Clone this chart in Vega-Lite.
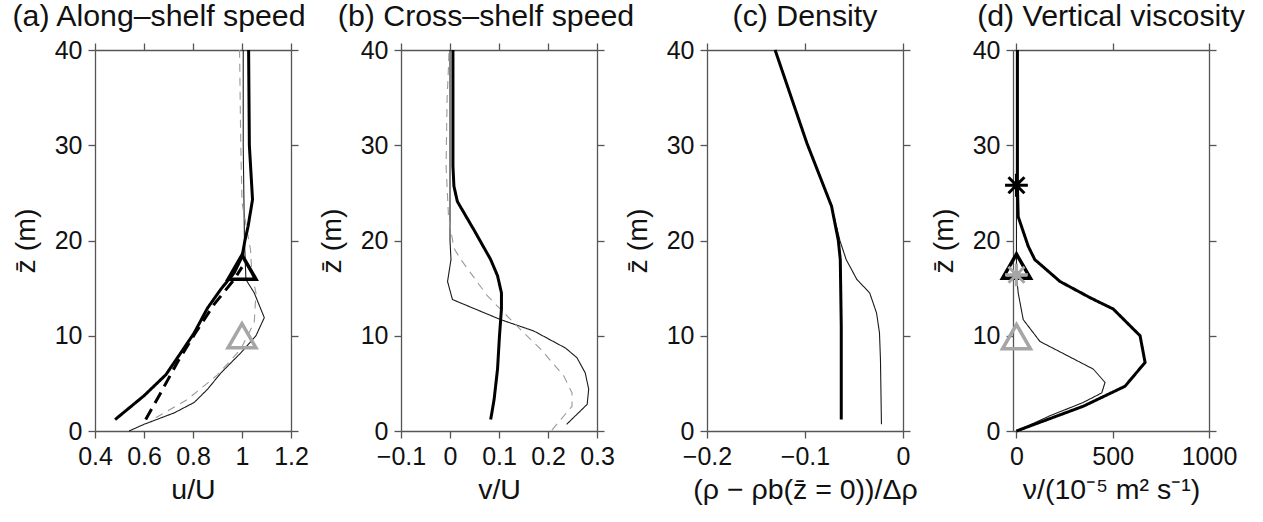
{
  "$schema": "https://vega.github.io/schema/vega-lite/v6.json",
  "padding": {"left": 11, "top": 1, "right": 5, "bottom": 5},
  "config": {
    "font": "Liberation Sans",
    "view": {"stroke": null},
    "axis": {
      "grid": false,
      "domainColor": "#555555",
      "domainWidth": 1.3,
      "tickColor": "#555555",
      "tickWidth": 1.3,
      "tickSize": 7,
      "labelFont": "Liberation Sans",
      "labelFontSize": 25,
      "labelColor": "#111111",
      "labelPadding": 6,
      "labelOverlap": false,
      "labelFlush": false,
      "titleFont": "Liberation Sans",
      "titleFontSize": 28.5,
      "titleFontWeight": "normal",
      "titleColor": "#111111"
    },
    "axisLeft": {"titlePadding": 14},
    "axisBottom": {"titlePadding": 6},
    "title": {"font": "Liberation Sans", "fontSize": 30.3, "fontWeight": "normal", "color": "#111111", "offset": 6, "anchor": "middle"}
  },
  "datasets": {
    "a": [
      {"s": "thick", "x": 0.482, "z": 1.2}, {"s": "thick", "x": 0.6, "z": 3.7}, {"s": "thick", "x": 0.689, "z": 5.9}, {"s": "thick", "x": 0.75, "z": 8.2}, {"s": "thick", "x": 0.805, "z": 10.3}, {"s": "thick", "x": 0.859, "z": 12.9}, {"s": "thick", "x": 0.914, "z": 14.9}, {"s": "thick", "x": 0.968, "z": 16.6}, {"s": "thick", "x": 1.0, "z": 18.3}, {"s": "thick", "x": 1.012, "z": 20.0}, {"s": "thick", "x": 1.025, "z": 21.5}, {"s": "thick", "x": 1.043, "z": 24.3}, {"s": "thick", "x": 1.03, "z": 30}, {"s": "thick", "x": 1.027, "z": 40},
      {"s": "thickdash", "x": 0.607, "z": 1.2}, {"s": "thickdash", "x": 0.668, "z": 4.0}, {"s": "thickdash", "x": 0.736, "z": 7.2}, {"s": "thickdash", "x": 0.805, "z": 10.1}, {"s": "thickdash", "x": 0.886, "z": 13.3}, {"s": "thickdash", "x": 0.968, "z": 15.9}, {"s": "thickdash", "x": 1.0, "z": 17.2},
      {"s": "thin", "x": 0.539, "z": 0}, {"s": "thin", "x": 0.6, "z": 0.7}, {"s": "thin", "x": 0.723, "z": 1.9}, {"s": "thin", "x": 0.805, "z": 3.0}, {"s": "thin", "x": 0.86, "z": 4.4}, {"s": "thin", "x": 0.914, "z": 6.1}, {"s": "thin", "x": 0.995, "z": 8.2}, {"s": "thin", "x": 1.057, "z": 10}, {"s": "thin", "x": 1.091, "z": 11.9}, {"s": "thin", "x": 1.05, "z": 14.5}, {"s": "thin", "x": 1.016, "z": 15.9}, {"s": "thin", "x": 1.014, "z": 17.3}, {"s": "thin", "x": 1.01, "z": 20}, {"s": "thin", "x": 1.005, "z": 30}, {"s": "thin", "x": 1.005, "z": 40},
      {"s": "graydash", "x": 0.648, "z": 1.4}, {"s": "graydash", "x": 0.777, "z": 3.3}, {"s": "graydash", "x": 0.9, "z": 5.9}, {"s": "graydash", "x": 0.995, "z": 8.6}, {"s": "graydash", "x": 1.05, "z": 11.4}, {"s": "graydash", "x": 1.057, "z": 14.5}, {"s": "graydash", "x": 1.04, "z": 16.5}, {"s": "graydash", "x": 1.035, "z": 19}, {"s": "graydash", "x": 1.0, "z": 24}, {"s": "graydash", "x": 0.995, "z": 30}, {"s": "graydash", "x": 0.99, "z": 40}
    ],
    "b": [
      {"s": "thick", "x": 0.083, "z": 1.2}, {"s": "thick", "x": 0.09, "z": 3.3}, {"s": "thick", "x": 0.097, "z": 6.5}, {"s": "thick", "x": 0.101, "z": 10}, {"s": "thick", "x": 0.105, "z": 12.8}, {"s": "thick", "x": 0.105, "z": 14.5}, {"s": "thick", "x": 0.097, "z": 16.3}, {"s": "thick", "x": 0.083, "z": 18}, {"s": "thick", "x": 0.049, "z": 21.1}, {"s": "thick", "x": 0.015, "z": 24.1}, {"s": "thick", "x": 0.008, "z": 25.7}, {"s": "thick", "x": 0.006, "z": 27.8}, {"s": "thick", "x": 0.006, "z": 40},
      {"s": "thin", "x": 0.238, "z": 0.7}, {"s": "thin", "x": 0.28, "z": 2.8}, {"s": "thin", "x": 0.283, "z": 4.4}, {"s": "thin", "x": 0.276, "z": 6.1}, {"s": "thin", "x": 0.259, "z": 7.7}, {"s": "thin", "x": 0.236, "z": 8.7}, {"s": "thin", "x": 0.171, "z": 10.5}, {"s": "thin", "x": 0.103, "z": 11.7}, {"s": "thin", "x": 0.005, "z": 13.8}, {"s": "thin", "x": -0.005, "z": 15.7}, {"s": "thin", "x": 0.002, "z": 18}, {"s": "thin", "x": 0.0, "z": 20}, {"s": "thin", "x": 0.0, "z": 40},
      {"s": "graydash", "x": 0.208, "z": 0.1}, {"s": "graydash", "x": 0.249, "z": 2.6}, {"s": "graydash", "x": 0.249, "z": 4.0}, {"s": "graydash", "x": 0.232, "z": 5.8}, {"s": "graydash", "x": 0.185, "z": 8.6}, {"s": "graydash", "x": 0.137, "z": 11}, {"s": "graydash", "x": 0.076, "z": 14.2}, {"s": "graydash", "x": 0.042, "z": 16.6}, {"s": "graydash", "x": 0.022, "z": 18}, {"s": "graydash", "x": 0.008, "z": 19.2}, {"s": "graydash", "x": -0.003, "z": 22.5}, {"s": "graydash", "x": -0.008, "z": 27.8}, {"s": "graydash", "x": -0.006, "z": 34.8}, {"s": "graydash", "x": -0.003, "z": 38.3}, {"s": "graydash", "x": -0.002, "z": 40}
    ],
    "c": [
      {"s": "thick", "x": -0.063, "z": 1.2}, {"s": "thick", "x": -0.063, "z": 11}, {"s": "thick", "x": -0.064, "z": 18}, {"s": "thick", "x": -0.066, "z": 20}, {"s": "thick", "x": -0.0729, "z": 23.6}, {"s": "thick", "x": -0.098, "z": 30.2}, {"s": "thick", "x": -0.1305, "z": 40},
      {"s": "thin", "x": -0.022, "z": 0.7}, {"s": "thin", "x": -0.023, "z": 7.5}, {"s": "thin", "x": -0.024, "z": 10.3}, {"s": "thin", "x": -0.027, "z": 12.4}, {"s": "thin", "x": -0.034, "z": 14.5}, {"s": "thin", "x": -0.047, "z": 15.9}, {"s": "thin", "x": -0.058, "z": 18}, {"s": "thin", "x": -0.0644, "z": 20}, {"s": "thin", "x": -0.0729, "z": 23.6}, {"s": "thin", "x": -0.098, "z": 30.2}, {"s": "thin", "x": -0.1305, "z": 40}
    ],
    "d": [
      {"s": "thick", "x": 0, "z": 0}, {"s": "thick", "x": 347, "z": 2.6}, {"s": "thick", "x": 564, "z": 4.7}, {"s": "thick", "x": 668, "z": 7.2}, {"s": "thick", "x": 642, "z": 10}, {"s": "thick", "x": 503, "z": 12.8}, {"s": "thick", "x": 382, "z": 14}, {"s": "thick", "x": 226, "z": 15.7}, {"s": "thick", "x": 95, "z": 18}, {"s": "thick", "x": 61, "z": 19.4}, {"s": "thick", "x": 9, "z": 22.5}, {"s": "thick", "x": 5, "z": 25.7}, {"s": "thick", "x": 5, "z": 40},
      {"s": "thin", "x": 0, "z": 0}, {"s": "thin", "x": 174, "z": 1.6}, {"s": "thin", "x": 347, "z": 3.0}, {"s": "thin", "x": 443, "z": 4.0}, {"s": "thin", "x": 460, "z": 5.1}, {"s": "thin", "x": 399, "z": 6.5}, {"s": "thin", "x": 122, "z": 9.4}, {"s": "thin", "x": 35, "z": 11.7}, {"s": "thin", "x": 9, "z": 14.5}, {"s": "thin", "x": 0, "z": 16.3}, {"s": "thin", "x": 0, "z": 40}
    ],
    "am": [
      {"m": "tri", "c": "k", "x": 1.0, "z": 17.2},
      {"m": "tri", "c": "g", "x": 1.0, "z": 10.0}
    ],
    "dm": [
      {"m": "ast", "c": "k", "x": 0, "z": 25.8},
      {"m": "tri", "c": "k", "x": 0, "z": 17.3},
      {"m": "ast", "c": "g", "x": 0, "z": 16.4},
      {"m": "tri", "c": "g", "x": 0, "z": 9.9}
    ]
  },
  "spacing": 110,
  "bounds": "flush",
  "resolve": {"scale": {"x": "independent", "y": "independent"}},
  "hconcat": [
    {
      "width": 196, "height": 381,
      "title": {"text": "(a) Along–shelf speed", "dx": -34},
      "data": {"name": "a"},
      "resolve": {"axis": {"x": "independent", "y": "independent"}},
      "layer": [
        {
          "transform": [{"filter": "datum.s == 'thin' || datum.s == 'graydash'"}],
          "mark": {"type": "line", "strokeWidth": 1.1},
          "encoding": {
            "x": {"field": "x", "type": "quantitative", "scale": {"domain": [0.4, 1.2], "nice": false, "zero": false}, "axis": {"values": [0.4, 0.6, 0.8, 1, 1.2], "format": "~g", "title": "u/U"}},
            "y": {"field": "z", "type": "quantitative", "scale": {"domain": [0, 40], "nice": false}, "axis": {"values": [0, 10, 20, 30, 40], "title": "z̄ (m)"}},
            "order": {"field": "z", "type": "quantitative"},
            "color": {"field": "s", "type": "nominal", "scale": {"domain": ["thick", "thickdash", "thin", "graydash"], "range": ["#000000", "#000000", "#1a1a1a", "#9a9a9a"]}, "legend": null},
            "strokeDash": {"field": "s", "type": "nominal", "scale": {"domain": ["thick", "thickdash", "thin", "graydash"], "range": [[1, 0], [12, 7], [1, 0], [8, 6]]}, "legend": null}
          }
        },
        {
          "transform": [{"filter": "datum.s == 'thick' || datum.s == 'thickdash'"}],
          "mark": {"type": "line", "strokeWidth": 3},
          "encoding": {
            "x": {"field": "x", "type": "quantitative", "axis": {"orient": "top", "values": [0.4, 0.6, 0.8, 1, 1.2], "labels": false, "title": null}},
            "y": {"field": "z", "type": "quantitative", "axis": {"orient": "right", "values": [0, 10, 20, 30, 40], "labels": false, "title": null}},
            "order": {"field": "z", "type": "quantitative"},
            "color": {"field": "s", "type": "nominal", "legend": null},
            "strokeDash": {"field": "s", "type": "nominal", "legend": null}
          }
        },
        {
          "data": {"name": "am"},
          "mark": {"type": "point", "shape": "triangle-up", "filled": false, "strokeWidth": 3.5, "size": 780, "opacity": 1},
          "encoding": {
            "x": {"field": "x", "type": "quantitative", "axis": null},
            "y": {"field": "z", "type": "quantitative", "axis": null},
            "stroke": {"field": "c", "type": "nominal", "scale": {"domain": ["k", "g"], "range": ["#000000", "#a6a6a6"]}, "legend": null}
          }
        }
      ]
    },
    {
      "width": 196, "height": 381,
      "title": {"text": "(b) Cross–shelf speed", "dx": -13},
      "data": {"name": "b"},
      "resolve": {"axis": {"x": "independent", "y": "independent"}},
      "layer": [
        {
          "transform": [{"filter": "datum.s == 'thin' || datum.s == 'graydash'"}],
          "mark": {"type": "line", "strokeWidth": 1.1},
          "encoding": {
            "x": {"field": "x", "type": "quantitative", "scale": {"domain": [-0.1, 0.3], "nice": false, "zero": false}, "axis": {"values": [-0.1, 0, 0.1, 0.2, 0.3], "format": "~g", "title": "v/U"}},
            "y": {"field": "z", "type": "quantitative", "scale": {"domain": [0, 40], "nice": false}, "axis": {"values": [0, 10, 20, 30, 40], "title": "z̄ (m)"}},
            "order": {"field": "z", "type": "quantitative"},
            "color": {"field": "s", "type": "nominal", "scale": {"domain": ["thick", "thickdash", "thin", "graydash"], "range": ["#000000", "#000000", "#1a1a1a", "#9a9a9a"]}, "legend": null},
            "strokeDash": {"field": "s", "type": "nominal", "scale": {"domain": ["thick", "thickdash", "thin", "graydash"], "range": [[1, 0], [12, 7], [1, 0], [8, 6]]}, "legend": null}
          }
        },
        {
          "transform": [{"filter": "datum.s == 'thick' || datum.s == 'thickdash'"}],
          "mark": {"type": "line", "strokeWidth": 3},
          "encoding": {
            "x": {"field": "x", "type": "quantitative", "axis": {"orient": "top", "values": [-0.1, 0, 0.1, 0.2, 0.3], "labels": false, "title": null}},
            "y": {"field": "z", "type": "quantitative", "axis": {"orient": "right", "values": [0, 10, 20, 30, 40], "labels": false, "title": null}},
            "order": {"field": "z", "type": "quantitative"},
            "color": {"field": "s", "type": "nominal", "legend": null},
            "strokeDash": {"field": "s", "type": "nominal", "legend": null}
          }
        }
      ]
    },
    {
      "width": 196, "height": 381,
      "title": {"text": "(c) Density"},
      "data": {"name": "c"},
      "resolve": {"axis": {"x": "independent", "y": "independent"}},
      "layer": [
        {
          "transform": [{"filter": "datum.s == 'thin' || datum.s == 'graydash'"}],
          "mark": {"type": "line", "strokeWidth": 1.1},
          "encoding": {
            "x": {"field": "x", "type": "quantitative", "scale": {"domain": [-0.2, 0], "nice": false, "zero": false}, "axis": {"values": [-0.2, -0.1, 0], "format": "~g", "title": "(ρ − ρb(z̄ = 0))/Δρ"}},
            "y": {"field": "z", "type": "quantitative", "scale": {"domain": [0, 40], "nice": false}, "axis": {"values": [0, 10, 20, 30, 40], "title": "z̄ (m)"}},
            "order": {"field": "z", "type": "quantitative"},
            "color": {"field": "s", "type": "nominal", "scale": {"domain": ["thick", "thickdash", "thin", "graydash"], "range": ["#000000", "#000000", "#1a1a1a", "#9a9a9a"]}, "legend": null},
            "strokeDash": {"field": "s", "type": "nominal", "scale": {"domain": ["thick", "thickdash", "thin", "graydash"], "range": [[1, 0], [12, 7], [1, 0], [8, 6]]}, "legend": null}
          }
        },
        {
          "transform": [{"filter": "datum.s == 'thick' || datum.s == 'thickdash'"}],
          "mark": {"type": "line", "strokeWidth": 3},
          "encoding": {
            "x": {"field": "x", "type": "quantitative", "axis": {"orient": "top", "values": [-0.2, -0.1, 0], "labels": false, "title": null}},
            "y": {"field": "z", "type": "quantitative", "axis": {"orient": "right", "values": [0, 10, 20, 30, 40], "labels": false, "title": null}},
            "order": {"field": "z", "type": "quantitative"},
            "color": {"field": "s", "type": "nominal", "legend": null},
            "strokeDash": {"field": "s", "type": "nominal", "legend": null}
          }
        }
      ]
    },
    {
      "width": 196, "height": 381,
      "title": {"text": "(d) Vertical viscosity"},
      "data": {"name": "d"},
      "resolve": {"axis": {"x": "independent", "y": "independent"}},
      "layer": [
        {
          "transform": [{"filter": "datum.s == 'thin' || datum.s == 'graydash'"}],
          "mark": {"type": "line", "strokeWidth": 1.1},
          "encoding": {
            "x": {"field": "x", "type": "quantitative", "scale": {"domain": [-18, 1000], "nice": false, "zero": false}, "axis": {"values": [0, 500, 1000], "format": "d", "title": "ν/(10⁻⁵ m² s⁻¹)"}},
            "y": {"field": "z", "type": "quantitative", "scale": {"domain": [0, 40], "nice": false}, "axis": {"values": [0, 10, 20, 30, 40], "title": "z̄ (m)"}},
            "order": {"field": "z", "type": "quantitative"},
            "color": {"field": "s", "type": "nominal", "scale": {"domain": ["thick", "thickdash", "thin", "graydash"], "range": ["#000000", "#000000", "#1a1a1a", "#9a9a9a"]}, "legend": null},
            "strokeDash": {"field": "s", "type": "nominal", "scale": {"domain": ["thick", "thickdash", "thin", "graydash"], "range": [[1, 0], [12, 7], [1, 0], [8, 6]]}, "legend": null}
          }
        },
        {
          "transform": [{"filter": "datum.s == 'thick' || datum.s == 'thickdash'"}],
          "mark": {"type": "line", "strokeWidth": 3},
          "encoding": {
            "x": {"field": "x", "type": "quantitative", "axis": {"orient": "top", "values": [0, 500, 1000], "labels": false, "title": null}},
            "y": {"field": "z", "type": "quantitative", "axis": {"orient": "right", "values": [0, 10, 20, 30, 40], "labels": false, "title": null}},
            "order": {"field": "z", "type": "quantitative"},
            "color": {"field": "s", "type": "nominal", "legend": null},
            "strokeDash": {"field": "s", "type": "nominal", "legend": null}
          }
        },
        {
          "data": {"name": "dm"},
          "transform": [{"filter": "datum.m == 'tri'"}],
          "mark": {"type": "point", "shape": "triangle-up", "filled": false, "strokeWidth": 3.5, "size": 780, "opacity": 1},
          "encoding": {
            "x": {"field": "x", "type": "quantitative", "axis": null},
            "y": {"field": "z", "type": "quantitative", "axis": null},
            "stroke": {"field": "c", "type": "nominal", "scale": {"domain": ["k", "g"], "range": ["#000000", "#a6a6a6"]}, "legend": null}
          }
        },
        {
          "data": {"name": "dm"},
          "transform": [{"filter": "datum.m == 'ast'"}],
          "mark": {"type": "point", "shape": "M-1,0L1,0M0,-1L0,1M-0.7,-0.7L0.7,0.7M-0.7,0.7L0.7,-0.7", "filled": false, "strokeWidth": 3, "size": 520, "opacity": 1},
          "encoding": {
            "x": {"field": "x", "type": "quantitative", "axis": null},
            "y": {"field": "z", "type": "quantitative", "axis": null},
            "stroke": {"field": "c", "type": "nominal", "scale": {"domain": ["k", "g"], "range": ["#000000", "#a6a6a6"]}, "legend": null}
          }
        }
      ]
    }
  ]
}
